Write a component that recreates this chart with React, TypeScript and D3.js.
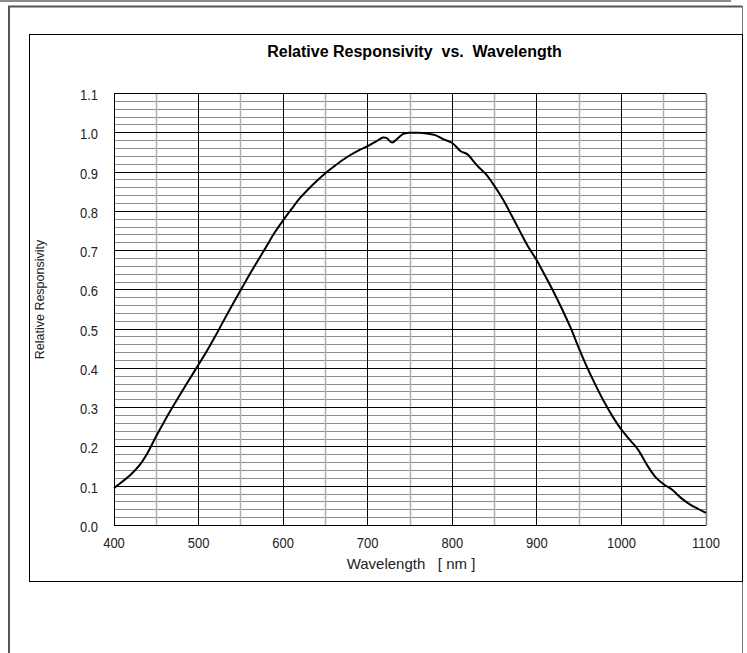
import * as d3 from 'd3'
import React, { useEffect, useRef } from 'react'

// wavelength [nm] and relative responsivity
const wavelengthNm = [
  400, 410, 420, 430, 440, 450, 460, 470, 480, 490, 500, 510, 520, 530, 540, 550, 560, 570, 580, 590, 600, 610, 620,
  630, 640, 650, 660, 670, 680, 690, 700, 710, 718, 722, 729, 735, 742, 750, 760, 770, 780, 790, 800, 810, 818, 825,
  830, 840, 850, 860, 870, 880, 890, 900, 910, 920, 930, 940, 950, 960, 970, 980, 990, 1000, 1010, 1020, 1030, 1040,
  1050, 1060, 1070, 1080, 1090, 1100,
]
const responsivity = [
  0.095, 0.112, 0.13, 0.153, 0.186, 0.228, 0.267, 0.304, 0.34, 0.375, 0.41, 0.445, 0.483, 0.523, 0.562, 0.6, 0.638,
  0.674, 0.71, 0.746, 0.777, 0.806, 0.834, 0.857, 0.878, 0.897, 0.914, 0.93, 0.944, 0.956, 0.966, 0.978, 0.988, 0.987,
  0.975, 0.985, 0.997, 1.0, 1.0, 0.998, 0.994, 0.983, 0.974, 0.953, 0.945, 0.928, 0.915, 0.894, 0.864, 0.83, 0.79,
  0.749, 0.709, 0.675, 0.635, 0.594, 0.55, 0.503, 0.45, 0.4, 0.355, 0.313, 0.276, 0.244, 0.218, 0.192, 0.155, 0.124,
  0.105, 0.091, 0.071, 0.055, 0.043, 0.032,
]

const xTicks = [400, 500, 600, 700, 800, 900, 1000, 1100]
const xMinorTicks = [450, 550, 650, 750, 850, 950, 1050]
const yTicks = [0, 0.1, 0.2, 0.3, 0.4, 0.5, 0.6, 0.7, 0.8, 0.9, 1.0, 1.1]

const title = 'Relative Responsivity  vs.  Wavelength'
const xTitle = 'Wavelength   [ nm ]'
const yTitle = 'Relative Responsivity'

const W = 747
const H = 653
const plot = { left: 114, right: 706, top: 93.5, bottom: 525.5 }
const font = 'Arial, "Liberation Sans", sans-serif'

const crisp = (v: number) => Math.round(v - 0.5) + 0.5

const App = () => {
  const ref = useRef<SVGSVGElement>(null)

  useEffect(() => {
    if (!ref.current) return
    const svg = d3.select(ref.current)
    svg.selectAll('*').remove()

    const x = d3.scaleLinear().domain([400, 1100]).range([plot.left, plot.right])
    const y = d3.scaleLinear().domain([0, 1.1]).range([plot.bottom, plot.top])

    svg.append('rect').attr('width', W).attr('height', H).attr('fill', '#fff')

    // page frame
    svg.append('rect').attr('x', 0).attr('y', 0).attr('width', 731).attr('height', 2).attr('fill', '#8a8a8a')
    svg
      .append('path')
      .attr('d', `M9,${H} V6.5 H742`)
      .attr('fill', 'none')
      .attr('stroke', '#555')
      .attr('stroke-width', 2)
    svg.append('line').attr('x1', 742.5).attr('x2', 742.5).attr('y1', 6).attr('y2', H).attr('stroke', '#777')

    // chart frame
    svg
      .append('rect')
      .attr('x', 29.5)
      .attr('y', 34.5)
      .attr('width', 713)
      .attr('height', 547)
      .attr('fill', 'none')
      .attr('stroke', '#000')

    const grid = svg.append('g')

    // minor horizontal lines every 0.02
    const yMinor = d3.range(0, 56).filter((i) => i % 5 !== 0).map((i) => i * 0.02)
    grid
      .selectAll('line.ymin')
      .data(yMinor)
      .join('line')
      .attr('class', 'ymin')
      .attr('x1', plot.left)
      .attr('x2', plot.right)
      .attr('y1', (d) => crisp(y(d)))
      .attr('y2', (d) => crisp(y(d)))
      .attr('stroke', '#8c8c8c')

    grid
      .selectAll('line.xmin')
      .data(xMinorTicks)
      .join('line')
      .attr('class', 'xmin')
      .attr('x1', (d) => crisp(x(d)))
      .attr('x2', (d) => crisp(x(d)))
      .attr('y1', plot.top)
      .attr('y2', plot.bottom)
      .attr('stroke', '#b0b0b0')
      .attr('stroke-width', 1.5)

    grid
      .selectAll('line.ymaj')
      .data(yTicks)
      .join('line')
      .attr('class', 'ymaj')
      .attr('x1', plot.left)
      .attr('x2', plot.right)
      .attr('y1', (d) => crisp(y(d)))
      .attr('y2', (d) => crisp(y(d)))
      .attr('stroke', '#000')

    grid
      .selectAll('line.xmaj')
      .data(xTicks)
      .join('line')
      .attr('class', 'xmaj')
      .attr('x1', (d) => crisp(x(d)))
      .attr('x2', (d) => crisp(x(d)))
      .attr('y1', plot.top)
      .attr('y2', plot.bottom)
      .attr('stroke', (d) => (d === 1100 ? '#777' : '#000'))
      .attr('stroke-width', (d) => (d === 1100 ? 1.5 : 1))

    // curve
    const line = d3
      .line<number>()
      .x((d) => x(d))
      .y((_, i) => y(responsivity[i]))
      .curve(d3.curveCatmullRom.alpha(0.5))

    svg
      .append('path')
      .datum(wavelengthNm)
      .attr('d', line)
      .attr('fill', 'none')
      .attr('stroke', '#000')
      .attr('stroke-width', 2)
      .attr('stroke-linejoin', 'round')

    // tick labels (slightly tall, like the reference)
    svg
      .append('g')
      .selectAll('text')
      .data(yTicks)
      .join('text')
      .attr('transform', (d) => `translate(98,${y(d) + 6.5}) scale(1,1.12)`)
      .attr('text-anchor', 'end')
      .attr('font-family', font)
      .attr('font-size', 13)
      .attr('fill', '#222')
      .text((d) => d.toFixed(1))

    svg
      .append('g')
      .selectAll('text')
      .data(xTicks)
      .join('text')
      .attr('transform', (d) => `translate(${x(d)},547.5) scale(1,1.12)`)
      .attr('text-anchor', 'middle')
      .attr('font-family', font)
      .attr('font-size', 13)
      .attr('fill', '#222')
      .text((d) => d)

    // titles
    svg
      .append('text')
      .attr('x', 414.5)
      .attr('y', 56.5)
      .attr('text-anchor', 'middle')
      .attr('font-family', font)
      .attr('font-size', 16)
      .attr('font-weight', 'bold')
      .attr('fill', '#000')
      .style('white-space', 'pre')
      .text(title)

    svg
      .append('text')
      .attr('x', 411)
      .attr('y', 569)
      .attr('text-anchor', 'middle')
      .attr('font-family', font)
      .attr('font-size', 15)
      .attr('fill', '#222')
      .style('white-space', 'pre')
      .text(xTitle)

    svg
      .append('text')
      .attr('transform', `translate(44,${(plot.top + plot.bottom) / 2 - 10}) rotate(-90)`)
      .attr('text-anchor', 'middle')
      .attr('font-family', font)
      .attr('font-size', 12.5)
      .attr('fill', '#222')
      .text(yTitle)
  }, [])

  return (
    <svg
      ref={ref}
      width={W}
      height={H}
      style={{ position: 'absolute', left: 0, top: 0, display: 'block', background: '#fff' }}
    />
  )
}

export default App
